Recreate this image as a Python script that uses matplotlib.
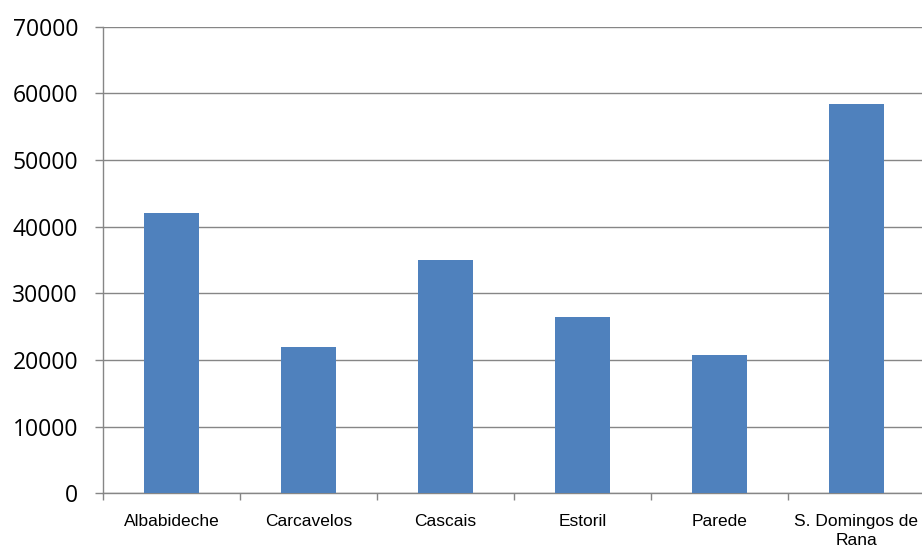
import numpy as np
import matplotlib.pyplot as plt

# Dados
freguesias = ["Albabideche", "Carcavelos", "Cascais", "Estoril", "Parede",
              "S. Domingos de\nRana"]
valores = [42000, 22000, 35000, 26500, 20700, 58400]
yticks = [0, 10000, 20000, 30000, 40000, 50000, 60000, 70000]

COR_BARRA = "#4F81BD"
COR_EIXO = "#868686"

fig = plt.figure(figsize=(9.22, 5.51), dpi=100)
ax = fig.add_axes([103 / 922, 57.7 / 551, 822 / 922, 466.6 / 551])

x = np.arange(len(freguesias))
ax.bar(x, valores, width=0.4, color=COR_BARRA, zorder=3)

ax.set_xlim(-0.5, len(freguesias) - 0.5)
ax.set_ylim(0, 70000)

# grelha horizontal
ax.set_yticks(yticks)
ax.set_yticklabels([str(v) for v in yticks], family=["Open Sans", "DejaVu Sans"],
                   fontsize=16.5)
ax.yaxis.grid(True, color=COR_EIXO, linewidth=1.0, zorder=0)
ax.tick_params(axis="y", length=6, width=1, color=COR_EIXO, pad=12)

# eixo x: rótulos ao centro, traços nas fronteiras
ax.set_xticks(x)
ax.set_xticklabels(freguesias, family=["Liberation Sans", "DejaVu Sans"],
                   fontsize=12.5, linespacing=1.35)
ax.set_xticks(np.arange(len(freguesias) + 1) - 0.5, minor=True)
ax.tick_params(axis="x", which="major", length=0, pad=15)
ax.tick_params(axis="x", which="minor", length=5, width=1, color=COR_EIXO)

for lado in ["top", "right"]:
    ax.spines[lado].set_visible(False)
for lado in ["left", "bottom"]:
    ax.spines[lado].set_color(COR_EIXO)
    ax.spines[lado].set_linewidth(1.0)

fig.savefig("out.png", dpi=100)
